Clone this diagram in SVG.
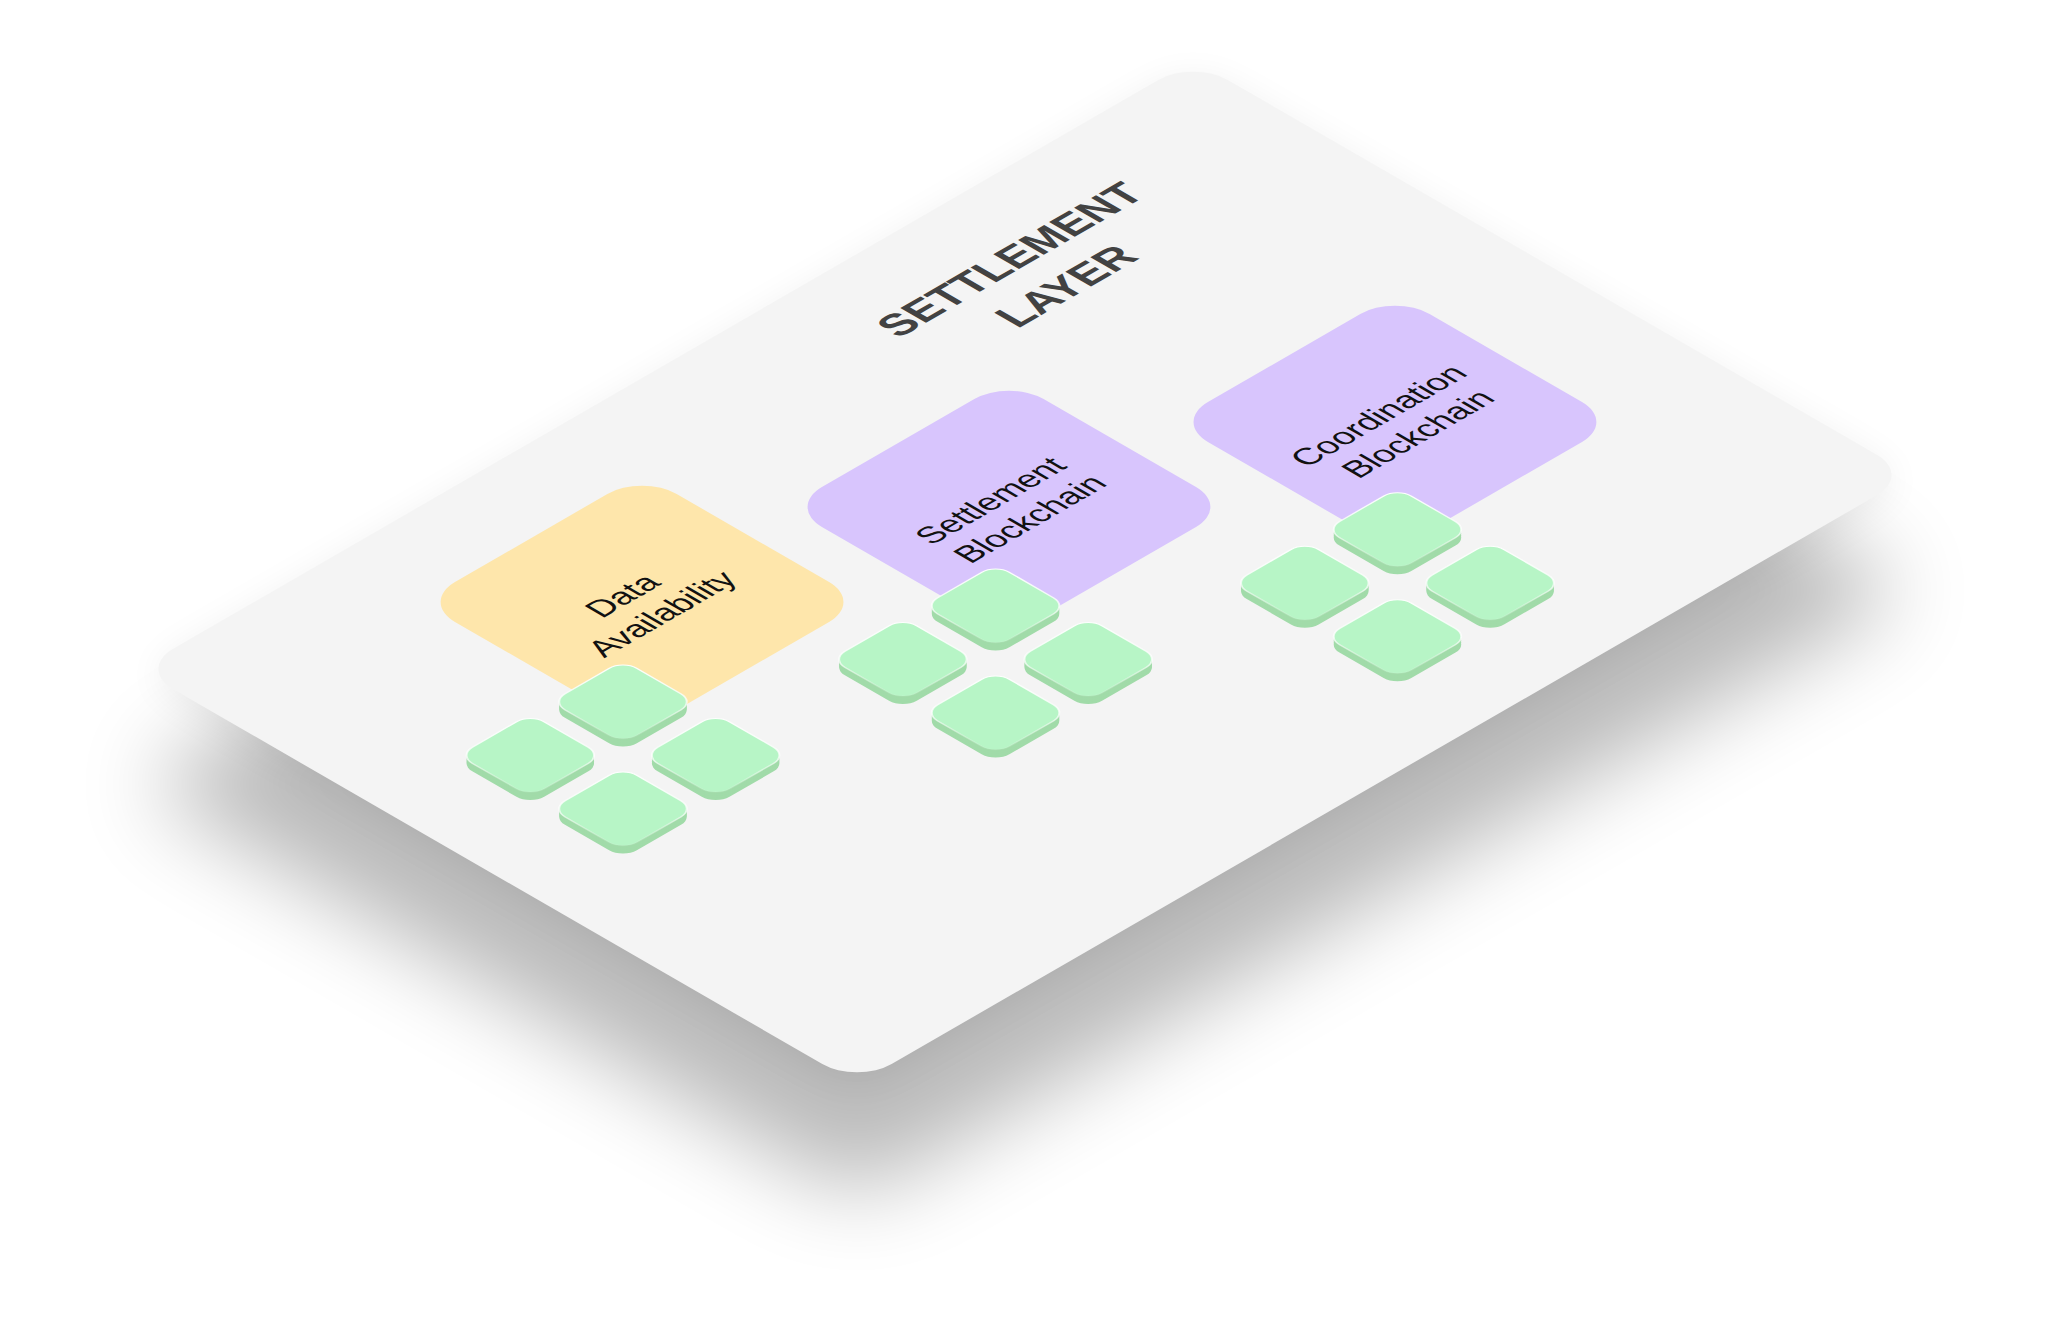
<svg xmlns="http://www.w3.org/2000/svg" xmlns:xlink="http://www.w3.org/1999/xlink" width="2054" height="1322" viewBox="0 0 2054 1322">
  <style>
    .plate { fill: #f4f4f4; }
    .yellow { fill: #fee6ab; }
    .purple { fill: #d8c5fd; }
    .chip-top { fill: #b7f5c6; stroke: url(#hl); stroke-width: 1.6; }
    .chip-side { fill: #a1dba9; }
    .title { font-family: "Liberation Sans", Arial, sans-serif; font-weight: bold; font-size: 43px; fill: #424242; text-anchor: middle; }
    .label { font-family: "Liberation Sans", Arial, sans-serif; font-size: 33px; fill: #111111; text-anchor: middle; }
  </style>
  <defs>
    <filter id="shadow" filterUnits="userSpaceOnUse" x="0" y="0" width="2054" height="1322">
      <feGaussianBlur stdDeviation="45"/>
    </filter>
    <filter id="halo" filterUnits="userSpaceOnUse" x="0" y="0" width="2054" height="1322">
      <feGaussianBlur stdDeviation="18"/>
    </filter>
    <linearGradient id="hl" x1="0" y1="0" x2="1" y2="1">
      <stop offset="0" stop-color="#ffffff" stop-opacity="1"/>
      <stop offset="0.55" stop-color="#ffffff" stop-opacity="0.7"/>
      <stop offset="1" stop-color="#ffffff" stop-opacity="0"/>
    </linearGradient>
    <g id="chip">
      <rect class="chip-side" x="-33.5" y="-33.5" width="83" height="83" rx="16"/>
      <rect class="chip-side" x="-35.5" y="-35.5" width="83" height="83" rx="16"/>
      <rect class="chip-side" x="-37.5" y="-37.5" width="83" height="83" rx="16"/>
      <rect class="chip-side" x="-39.5" y="-39.5" width="83" height="83" rx="16"/>
      <rect class="chip-top" x="-41.5" y="-41.5" width="83" height="83" rx="16"/>
    </g>
  </defs>

  <rect width="2054" height="1322" fill="#ffffff"/>

  <!-- shadows -->
  <g filter="url(#halo)" opacity="0.06">
    <rect transform="matrix(0.866025,0.5,-0.866025,0.5,1193,66)" x="0" y="0" width="830" height="1218" rx="40" fill="#000"/>
  </g>
  <g filter="url(#shadow)" opacity="0.27">
    <rect transform="matrix(0.866025,0.5,-0.866025,0.5,1193,175)" x="0" y="0" width="830" height="1218" rx="40" fill="#000"/>
  </g>

  <!-- settlement layer plate -->
  <g id="settlement-layer">
    <rect class="plate" transform="matrix(0.866025,0.5,-0.866025,0.5,1193,60)" x="0" y="0" width="830" height="1218" rx="40"/>
    <text class="title" transform="matrix(0.866025,-0.5,0.866025,0.5,1040,271)">
      <tspan x="0" y="-14">SETTLEMENT</tspan>
      <tspan x="0" y="45">LAYER</tspan>
    </text>
  </g>

  <g id="connectors"/>

  <!-- Data Availability -->
  <g id="data-availability">
    <rect class="yellow" transform="matrix(0.866025,0.5,-0.866025,0.5,1193,60)" x="95.9" y="732.1" width="256" height="256" rx="40"/>
    <text class="label" transform="matrix(0.866025,-0.5,0.866025,0.5,643,603)">
      <tspan x="0" y="-8">Data</tspan>
      <tspan x="0" y="33">Availability</tspan>
    </text>
  </g>

  <!-- Settlement Blockchain -->
  <g id="settlement-blockchain">
    <rect class="purple" transform="matrix(0.866025,0.5,-0.866025,0.5,1193,60)" x="212.8" y="425.3" width="256" height="256" rx="40"/>
    <text class="label" transform="matrix(0.866025,-0.5,0.866025,0.5,1011,508)">
      <tspan x="0" y="-8">Settlement</tspan>
      <tspan x="0" y="33">Blockchain</tspan>
    </text>
  </g>

  <!-- Coordination Blockchain -->
  <g id="coordination-blockchain">
    <rect class="purple" transform="matrix(0.866025,0.5,-0.866025,0.5,1193,60)" x="350.6" y="117.4" width="256" height="256" rx="40"/>
    <text class="label" transform="matrix(0.866025,-0.5,0.866025,0.5,1399,423)">
      <tspan x="0" y="-8">Coordination</tspan>
      <tspan x="0" y="33">Blockchain</tspan>
    </text>
  </g>

  <!-- chip groups -->
  <g id="da-chips" transform="matrix(0.866025,0.5,-0.866025,0.5,1193,60)">
    <use href="#chip" xlink:href="#chip" x="312.7" y="970.9"/>
    <use href="#chip" xlink:href="#chip" x="312.7" y="1077.9"/>
    <use href="#chip" xlink:href="#chip" x="419.7" y="970.9"/>
    <use href="#chip" xlink:href="#chip" x="419.7" y="1077.9"/>
  </g>
  <g id="sb-chips" transform="matrix(0.866025,0.5,-0.866025,0.5,1193,60)">
    <use href="#chip" xlink:href="#chip" x="431.8" y="659.8"/>
    <use href="#chip" xlink:href="#chip" x="431.8" y="766.8"/>
    <use href="#chip" xlink:href="#chip" x="538.8" y="659.8"/>
    <use href="#chip" xlink:href="#chip" x="538.8" y="766.8"/>
  </g>
  <g id="cb-chips" transform="matrix(0.866025,0.5,-0.866025,0.5,1193,60)">
    <use href="#chip" xlink:href="#chip" x="587.6" y="351.5"/>
    <use href="#chip" xlink:href="#chip" x="587.6" y="458.5"/>
    <use href="#chip" xlink:href="#chip" x="694.6" y="351.5"/>
    <use href="#chip" xlink:href="#chip" x="694.6" y="458.5"/>
  </g>
</svg>
